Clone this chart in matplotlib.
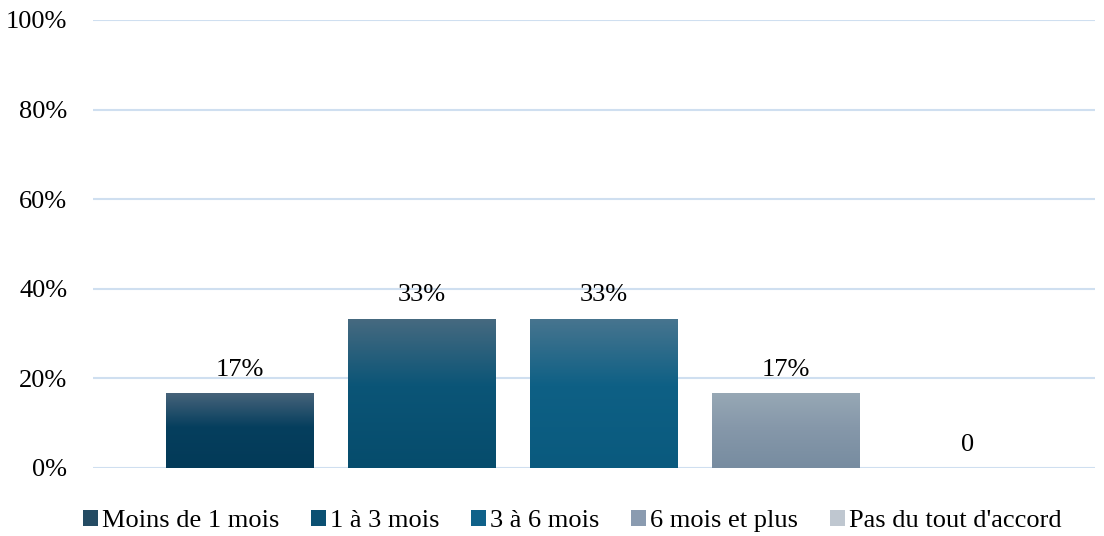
import numpy as np
import matplotlib.pyplot as plt
from matplotlib.colors import LinearSegmentedColormap
from matplotlib.patches import Patch

# data
categories = ["Moins de 1 mois", "1 à 3 mois", "3 à 6 mois", "6 mois et plus", "Pas du tout d'accord"]
values = [16.67, 33.33, 33.33, 16.67, 0]
labels = ["17%", "33%", "33%", "17%", "0"]

# gradient colours (top, middle, bottom) and legend colour
grads = [
    ("#47637a", "#063f5e", "#033a58"),
    ("#476a80", "#0b5577", "#064c6c"),
    ("#48758f", "#0e6085", "#0a5a7e"),
    ("#97a8b5", "#8698aa", "#778ca0"),
    ("#c8ced6", "#bcc4cd", "#b0b9c3"),
]
legend_colors = ["#244b63", "#0b5072", "#0f6189", "#8a9bb0", "#bfc7d0"]

plt.rcParams['font.family'] = ['Liberation Serif', 'DejaVu Serif']

fig = plt.figure(figsize=(11.04, 5.36), dpi=100)
ax = fig.add_axes([93/1104, 68/536, 1002/1104, 448/536])

x = np.arange(len(categories))
width = 0.813
bars = ax.bar(x, values, width=width, color='none', edgecolor='none', zorder=3)

grad = np.linspace(1, 0, 256).reshape(-1, 1)
for b, g in zip(bars, grads):
    if b.get_height() <= 0:
        continue
    cmap = LinearSegmentedColormap.from_list("g", [(0, g[2]), (0.55, g[1]), (1, g[0])])
    x0, y0 = b.get_x(), b.get_y()
    im = ax.imshow(grad, cmap=cmap, aspect='auto', zorder=3,
                   extent=[x0, x0 + b.get_width(), y0, y0 + b.get_height()])
    im.set_clip_path(b)

for xi, v, lab in zip(x, values, labels):
    ax.text(xi, v + 5.2, lab, ha='center', va='center', fontsize=19, color='#000000')

ax.set_xlim(-0.808, 4.698)
ax.set_ylim(0, 100)
ax.set_yticks([0, 20, 40, 60, 80, 100])
ax.set_yticklabels(["0%", "20%", "40%", "60%", "80%", "100%"], fontsize=19)
ax.set_xticks([])
ax.yaxis.grid(True, color='#cfdff0', linewidth=1.5, zorder=0)
ax.set_axisbelow(True)
ax.tick_params(axis='y', length=0, pad=18.5)
for s in ax.spines.values():
    s.set_visible(False)

handles = [Patch(facecolor=c, edgecolor='none') for c in legend_colors]
fig.legend(handles, categories, loc='center', bbox_to_anchor=(572/1104, 15/536),
           ncol=5, frameon=False, fontsize=19, handlelength=0.57, handleheight=0.57,
           handletextpad=0.15, columnspacing=1.2)

fig.savefig("out.png", dpi=100)
